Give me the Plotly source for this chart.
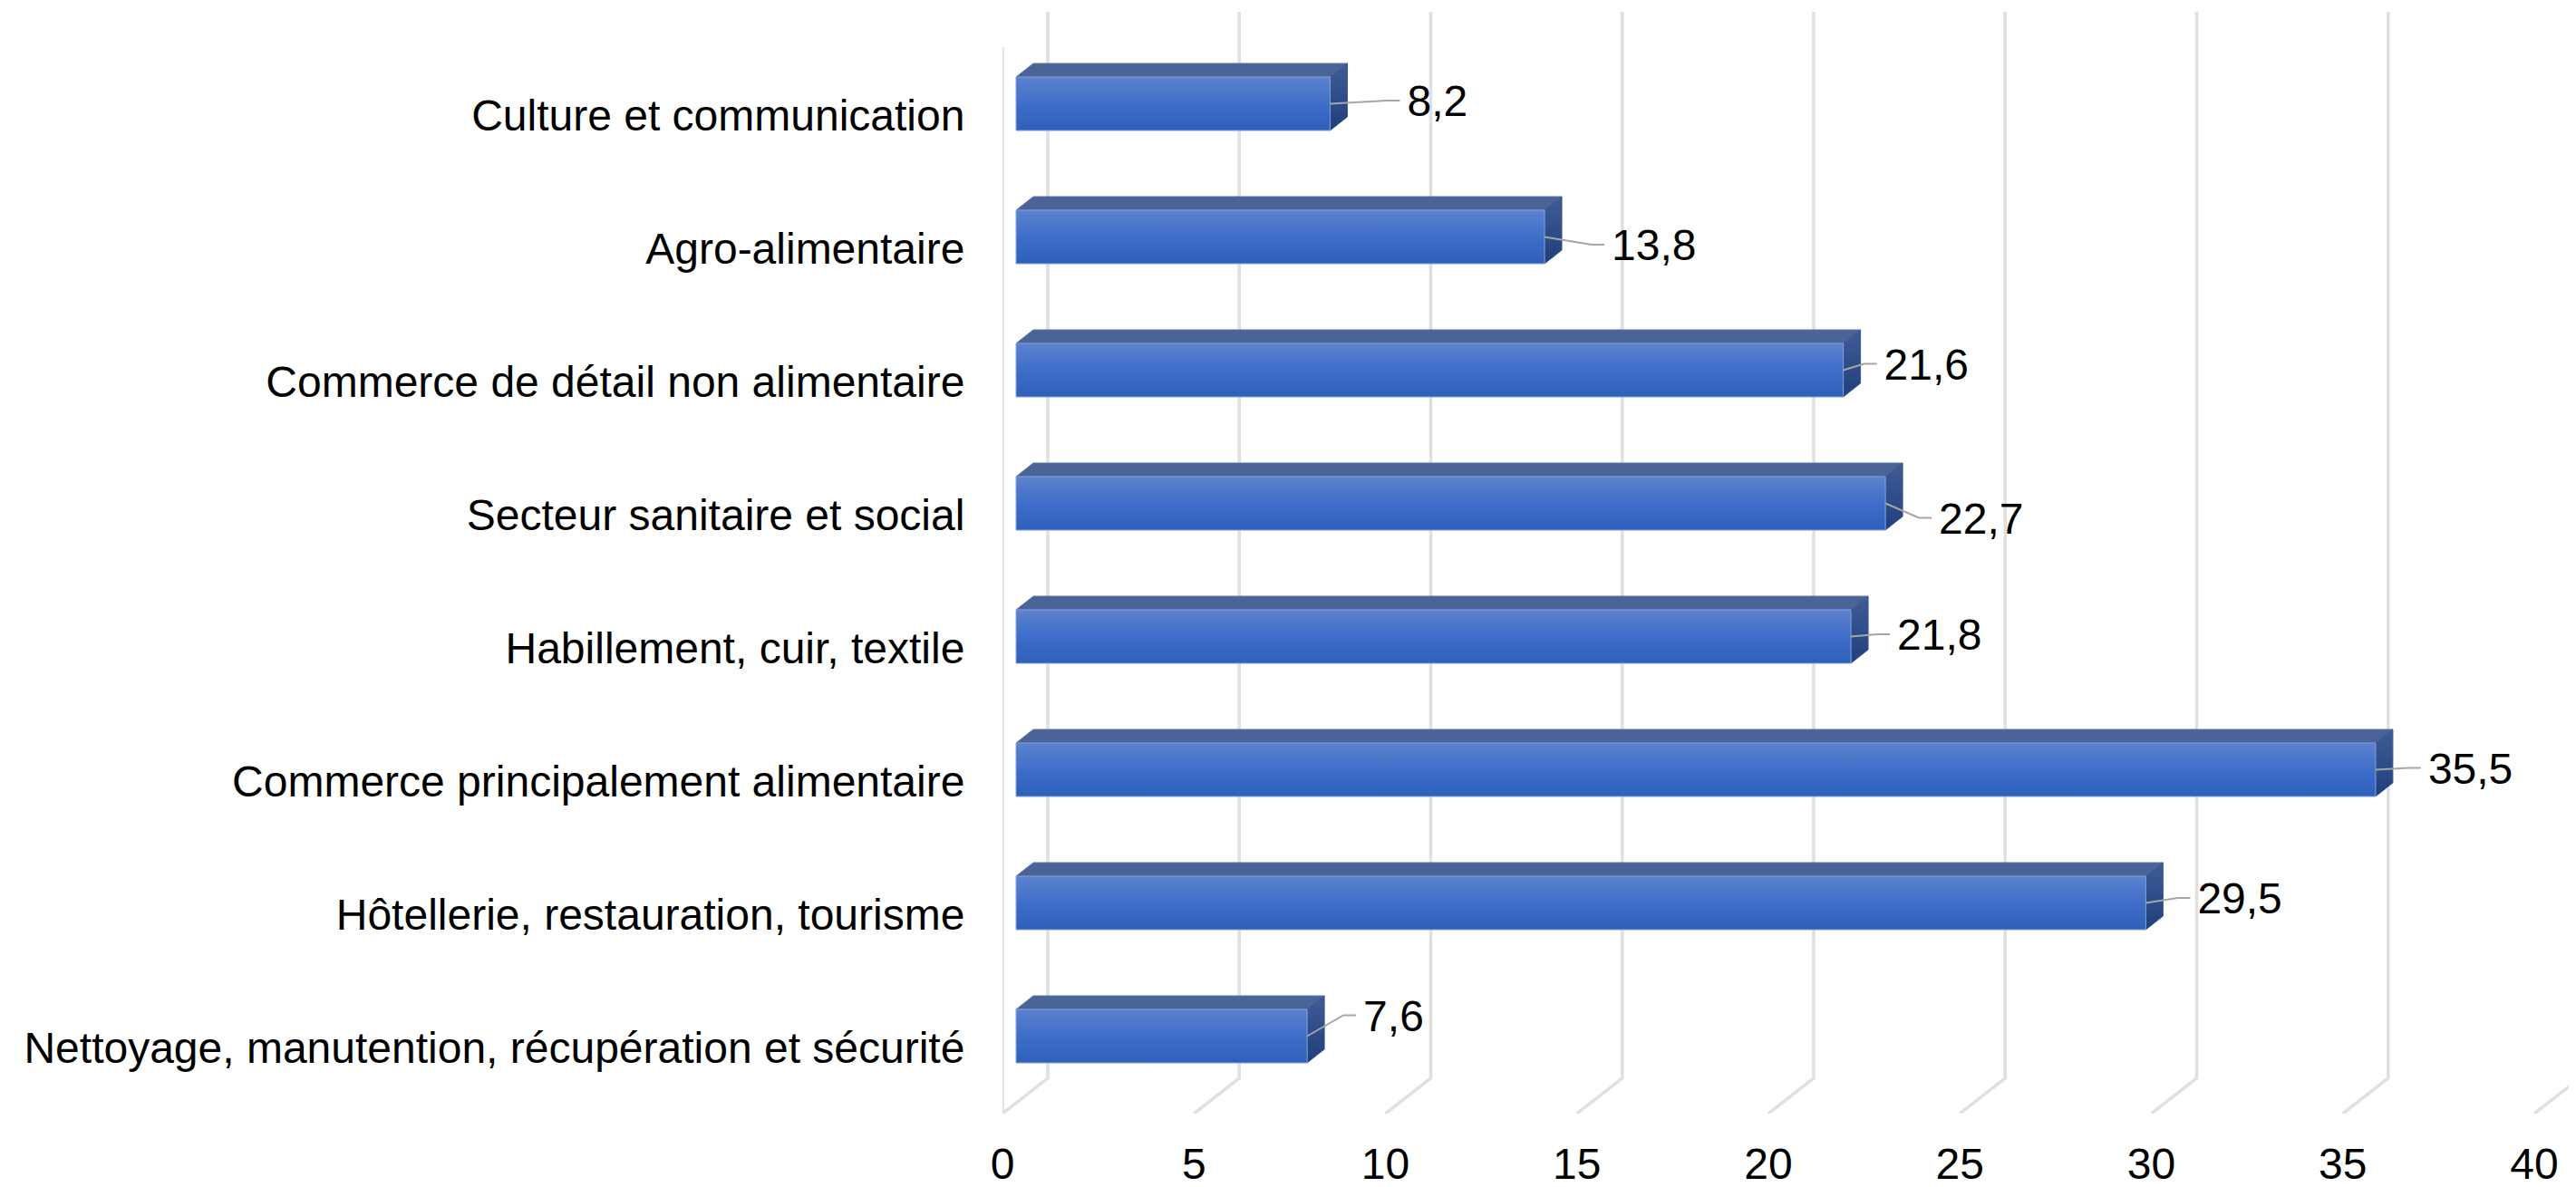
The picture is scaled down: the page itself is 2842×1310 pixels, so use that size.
import plotly.graph_objects as go

categories = [
    "Culture et communication",
    "Agro-alimentaire",
    "Commerce de détail non alimentaire",
    "Secteur sanitaire et social",
    "Habillement, cuir, textile",
    "Commerce principalement alimentaire",
    "Hôtellerie, restauration, tourisme",
    "Nettoyage, manutention, récupération et sécurité",
]
values = [8.2, 13.8, 21.6, 22.7, 21.8, 35.5, 29.5, 7.6]
x_ticks = [0, 5, 10, 15, 20, 25, 30, 35, 40]

# Label placement relative to the end / centre of each bar, in pixels (style only)
label_dx = [85, 74, 45, 59, 51, 58, 57, 62]
label_dy = [1.5, 13.5, -2, 21, 2.5, 3, -0.5, -18]

FONT = "Liberation Sans, Arial, sans-serif"
FS = 48
W, H = 2842, 1310
BODY = 8  # default page margin around the figure
PX0, PY_TOP, PY_FLOOR = 1106, 13, 1229
PX_PER_UNIT = 42.25
PY_PER_CAT = 147.0
PY_CAT0 = 127.0

x_max = (W - PX0) / PX_PER_UNIT
y_top = (PY_TOP - PY_CAT0) / PY_PER_CAT
y_bot = (PY_FLOOR - PY_CAT0) / PY_PER_CAT

ux = lambda px: px / PX_PER_UNIT          # pixel length -> x units
uy = lambda px: px / PY_PER_CAT           # pixel length -> y units

# Chart-box geometry
wall_dx, wall_dy = ux(50), uy(39)
front_top = y_top + uy(39)
bar_base = ux(15)
bar_h = uy(59)
bar_shift = -uy(12.5)
depth_x, depth_y = ux(19), uy(15)

fig = go.Figure()

# Invisible-under-gradient bars, the true data marks
centres = [i + bar_shift for i in range(len(values))]
fig.add_trace(go.Bar(
    orientation="h", y=centres, x=values, base=bar_base, width=bar_h,
    marker=dict(color="#3d6cc8", line=dict(width=0)), showlegend=False, hoverinfo="skip",
))

# Gridlines: back wall plus floor diagonal
gx, gy = [], []
for t in x_ticks:
    gx += [t + wall_dx, t + wall_dx, t, None]
    gy += [y_top, y_bot - wall_dy, y_bot, None]
fig.add_trace(go.Scatter(x=gx, y=gy, mode="lines", line=dict(color="#e0e0e0", width=3.5),
                         showlegend=False, hoverinfo="skip"))
# Front-left wall edge
fig.add_trace(go.Scatter(x=[0, 0], y=[front_top, y_bot], mode="lines",
                         line=dict(color="#e0e0e0", width=3.5), showlegend=False, hoverinfo="skip",
                         cliponaxis=False))

for c, v in zip(centres, values):
    t, b = c - bar_h / 2, c + bar_h / 2
    l, r = bar_base, bar_base + v
    # top face
    fig.add_trace(go.Scatter(
        x=[l, l + depth_x, r + depth_x, r, l], y=[t, t - depth_y, t - depth_y, t, t],
        mode="lines", fill="toself", fillcolor="#4a6498", line=dict(color="#5a74a8", width=1),
        showlegend=False, hoverinfo="skip"))
    # side face
    fig.add_trace(go.Scatter(
        x=[r, r + depth_x, r + depth_x, r, r], y=[t, t - depth_y, b - depth_y, b, t],
        mode="lines", fill="toself",
        fillgradient=dict(type="vertical", colorscale=[[0, "#1f3f7c"], [1, "#3f5c96"]]),
        line=dict(color="#3a5690", width=1), showlegend=False, hoverinfo="skip"))
    # front face
    fig.add_trace(go.Scatter(
        x=[l, r, r, l, l], y=[t, t, b, b, t], mode="lines", fill="toself",
        fillgradient=dict(type="vertical",
                          colorscale=[[0, "#2e60ba"], [0.45, "#3c6cc8"], [1, "#5d82cf"]]),
        line=dict(color="#7f9fdc", width=1), showlegend=False, hoverinfo="skip"))

# Leader lines and value labels
lx, ly, tx, ty, texts = [], [], [], [], []
for c, v, dx, dy in zip(centres, values, label_dx, label_dy):
    end = bar_base + v
    left = end + ux(dx)
    y_lab = c + uy(dy)
    lx += [end, left - ux(22), left - ux(8), None]
    ly += [c, y_lab - uy(5), y_lab - uy(5), None]
    tx.append(left)
    ty.append(y_lab)
    texts.append(f"{v:.1f}".replace(".", ","))
fig.add_trace(go.Scatter(x=lx, y=ly, mode="lines", line=dict(color="#a6a6a6", width=2),
                         showlegend=False, hoverinfo="skip"))
fig.add_trace(go.Scatter(x=tx, y=ty, mode="text", text=texts, textposition="middle right",
                         textfont=dict(family=FONT, size=FS, color="#000000"),
                         showlegend=False, hoverinfo="skip", cliponaxis=False))

fig.update_layout(
    width=W - BODY, height=H - BODY, paper_bgcolor="white", plot_bgcolor="white",
    margin=dict(l=PX0 - BODY, r=0, t=PY_TOP - BODY, b=H - PY_FLOOR, pad=0),
    font=dict(family=FONT, size=FS, color="#000000"),
    showlegend=False,
    xaxis=dict(range=[0, x_max], tickmode="array", tickvals=x_ticks, ticktext=[str(t) for t in x_ticks],
               showgrid=False, zeroline=False, showline=False, ticks="outside", automargin=False,
               ticklen=13, tickcolor="rgba(0,0,0,0)", tickangle=0),
    yaxis=dict(range=[y_bot, y_top], tickmode="array", tickvals=list(range(len(categories))),
               ticktext=categories, showgrid=False, zeroline=False, showline=False, automargin=False,
               ticks="outside", ticklen=31, tickcolor="rgba(0,0,0,0)"),
)
fig.write_html("out.html")
